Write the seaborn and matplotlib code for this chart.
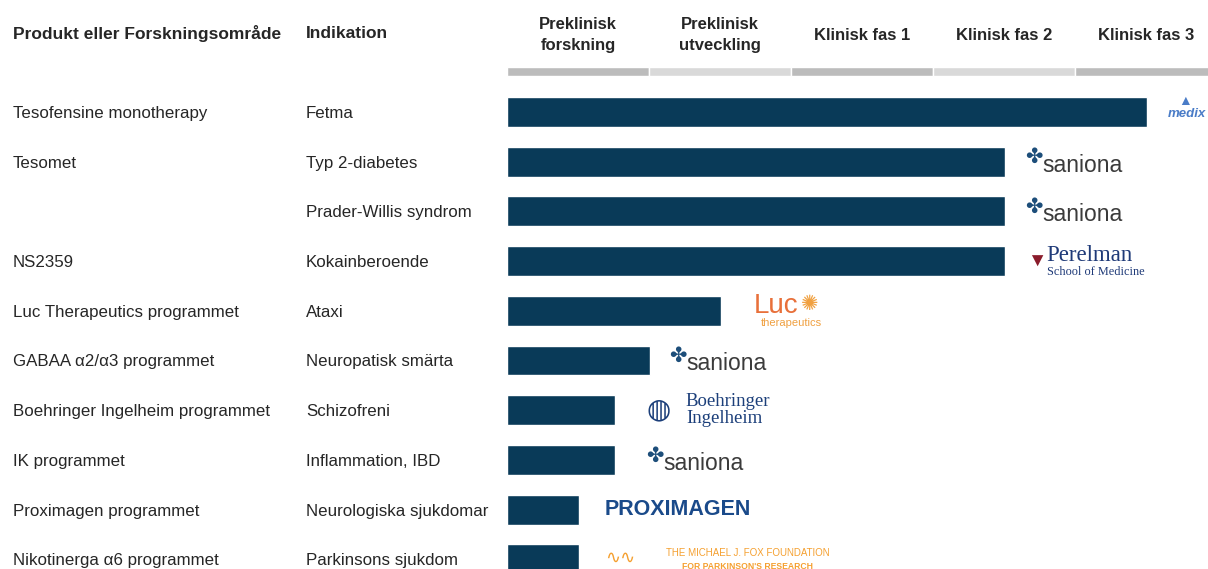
"""
Pipeline chart: product / indication / development phase, recreated with seaborn.
"""
import matplotlib
matplotlib.use('Agg')
import matplotlib.pyplot as plt
import pandas as pd
import seaborn as sns

# Data
PRODUCTS = ['Tesofensine monotherapy', 'Tesomet', '', 'NS2359',
            'Luc Therapeutics programmet', 'GABAA \u03b12/\u03b13 programmet',
            'Boehringer Ingelheim programmet', 'IK programmet',
            'Proximagen programmet', 'Nikotinerga \u03b16 programmet']
INDICATIONS = ['Fetma', 'Typ 2-diabetes', 'Prader-Willis syndrom',
               'Kokainberoende', 'Ataxi', 'Neuropatisk sm\u00e4rta',
               'Schizofreni', 'Inflammation, IBD', 'Neurologiska sjukdomar',
               'Parkinsons sjukdom']
# progress measured in phases (1.0 = one phase column)
PROGRESS = [4.51, 3.51, 3.51, 3.51, 1.51, 1.01, 0.76, 0.76, 0.51, 0.51]
PARTNERS = ['medix', 'saniona', 'saniona', 'Perelman', 'Luc', 'saniona',
            'Boehringer', 'saniona', 'PROXIMAGEN', 'MJFox']
PHASES = ['Preklinisk\nforskning', 'Preklinisk\nutveckling', 'Klinisk fas 1',
          'Klinisk fas 2', 'Klinisk fas 3']

BAR_COLOR = '#093a58'
BAND_COLORS = ['#bcbcbc', '#d9d9d9']

sns.set_style('white')
plt.rcParams['font.family'] = ['Liberation Sans', 'DejaVu Sans']

df = pd.DataFrame({'row': list(range(len(PROGRESS))), 'progress': PROGRESS})

fig = plt.figure(figsize=(12.08, 5.69), dpi=100)
# bar area starts at x=507px, one phase = 142px
ax = fig.add_axes([507 / 1208, 0, 1 - 507 / 1208, 1])

PH = 142.0
ROW = 49.7
Y0 = 112.0


def py(pix):
    # pixel row -> data row
    return (pix - Y0) / ROW


def px(pix):
    # pixel column -> data x
    return (pix - 507) / PH


# bars
sns.barplot(data=df, x='progress', y='row', orient='h', color=BAR_COLOR,
            width=0.6, native_scale=True, ax=ax, saturation=1)
ax.set_xlim(0, 701 / PH)
ax.set_ylim(py(569), py(0))
ax.axis('off')

# phase bands and headers
for i, ph in enumerate(PHASES):
    ax.barh(py(71.5), 1.0, left=i, height=9 / ROW,
            color=BAND_COLORS[i % 2])
    ax.text(i + 0.5, py(35), ph, ha='center', va='center', fontsize=12,
            fontweight='bold', linespacing=1.45)

# left columns
ax.text(px(13), py(34), 'Produkt eller Forskningsomr\u00e5de', fontsize=12.5,
        fontweight='bold', va='center', clip_on=False)
ax.text(px(306), py(34), 'Indikation', fontsize=12.5, fontweight='bold',
        va='center', clip_on=False)
for i, (p, ind) in enumerate(zip(PRODUCTS, INDICATIONS)):
    ax.text(px(13), i + 0.03, p, fontsize=12.2, va='center', clip_on=False)
    ax.text(px(306), i + 0.03, ind, fontsize=12.2, va='center', clip_on=False)


# partner "logos" as text
def saniona(x, y):
    ax.text(x, y - 0.08, '\u2724', color='#1d4e7a', fontsize=15,
            ha='left', va='center')
    ax.text(x + 0.12, y + 0.07, 'saniona', color='#3b3b3b', fontsize=16.5,
            ha='left', va='center')


for i, (val, name) in enumerate(zip(PROGRESS, PARTNERS)):
    if name == 'saniona':
        off = 0.14 if val > 1.2 else (0.13 if val > 0.9 else 0.22)
        saniona(val + off, i)
    elif name == 'medix':
        ax.text(px(1168), i + 0.04, 'medix', color='#4a7cc7', fontsize=9.5,
                fontstyle='italic', fontweight='bold', ha='left', va='center')
        ax.text(px(1185), i - 0.22, '\u25b2', color='#4a7cc7', fontsize=10,
                ha='center', va='center')
    elif name == 'Perelman':
        ax.text(val + 0.15, i + 0.02, '\u25bc', color='#8a1c2b', fontsize=14,
                ha='left', va='center')
        ax.text(val + 0.29, i - 0.12, 'Perelman', color='#1f3a78',
                fontsize=16.5, family='Liberation Serif', ha='left',
                va='center')
        ax.text(val + 0.29, i + 0.22, 'School of Medicine', color='#1f3a78',
                fontsize=8.8, family='Liberation Serif', ha='left',
                va='center')
    elif name == 'Luc':
        ax.text(val + 0.23, i - 0.1, 'Luc', color='#e8703a', fontsize=20,
                ha='left', va='center')
        ax.text(val + 0.56, i - 0.12, '\u273a', color='#f0a040', fontsize=15,
                ha='left', va='center')
        ax.text(val + 0.28, i + 0.25, 'therapeutics', color='#f0a040',
                fontsize=8, ha='left', va='center')
    elif name == 'Boehringer':
        ax.text(val + 0.22, i, '\u25cd', color='#1c3f7a', fontsize=20,
                ha='left', va='center')
        ax.text(val + 0.5, i, 'Boehringer\nIngelheim', color='#1c3f7a',
                fontsize=13.5, family='Liberation Serif', ha='left',
                va='center', linespacing=1.0)
    elif name == 'PROXIMAGEN':
        ax.text(val + 0.18, i, 'PROXIMAGEN', color='#1a4a8a', fontsize=15.5,
                fontweight='bold', ha='left', va='center')
    elif name == 'MJFox':
        ax.text(val + 0.18, i - 0.02, '\u223f\u223f', color='#f5a030',
                fontsize=13, ha='left', va='center')
        ax.text(px(748), i - 0.13, 'THE MICHAEL J. FOX FOUNDATION',
                color='#f5a030', fontsize=7, ha='center', va='center')
        ax.text(px(748), i + 0.14, "FOR PARKINSON'S RESEARCH",
                color='#f5a030', fontsize=6.2, fontweight='bold',
                ha='center', va='center')

fig.savefig('out.png', dpi=100)
